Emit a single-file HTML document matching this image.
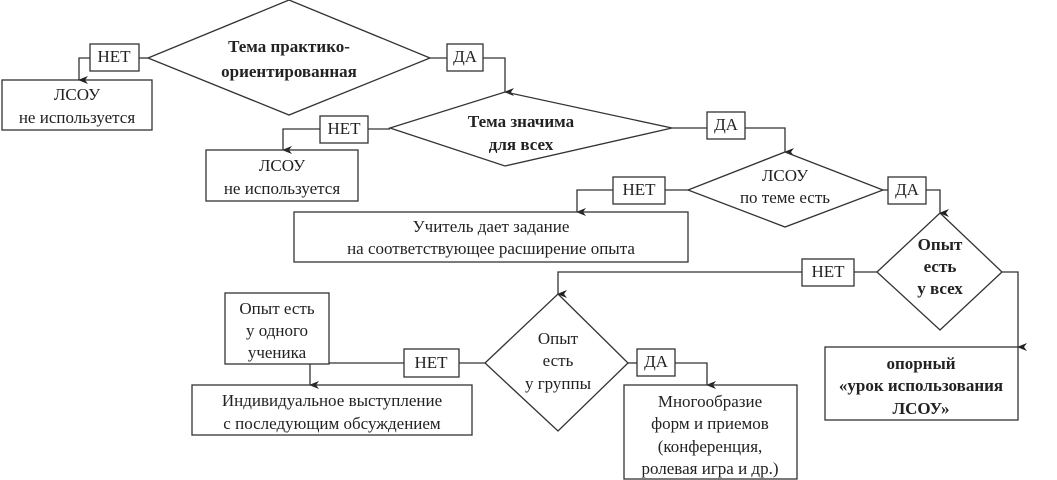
<!DOCTYPE html>
<html><head><meta charset="utf-8"><style>
html,body{margin:0;padding:0;background:#fff}
svg{display:block}
text{font-family:"Liberation Serif",serif;font-size:17px;fill:#222;text-anchor:middle;dominant-baseline:middle}
.b{font-weight:bold}
</style></head><body>
<svg width="1057" height="480" viewBox="0 0 1057 480">
<defs><marker id="a" markerWidth="10" markerHeight="10" refX="5" refY="9" orient="auto" markerUnits="userSpaceOnUse"><path d="M1,0 L5,10 L9,0 L5,3 Z" fill="#222"/></marker></defs>
<g fill="none" stroke="#333" stroke-width="1.3">
<polygon points="289,0 430,58 289,115 148,58" fill="#fff"/>
<rect x="90" y="44" width="49" height="27"/>
<rect x="2" y="80" width="150" height="50"/>
<line x1="139" y1="58" x2="148" y2="58"/>
<polyline points="90,58 79,58 79,80" marker-end="url(#a)"/>
<rect x="447" y="44" width="36" height="27"/>
<line x1="430" y1="58" x2="447" y2="58"/>
<polyline points="483,58 505,58 505,92" marker-end="url(#a)"/>
<polygon points="505,92 672,128 505,166 390,128"/>
<rect x="320" y="116" width="48" height="27"/>
<line x1="368" y1="129" x2="390" y2="129"/>
<polyline points="320,129 283,129 283,150" marker-end="url(#a)"/>
<rect x="206" y="150" width="152" height="51"/>
<rect x="707" y="112" width="38" height="27"/>
<line x1="672" y1="128" x2="707" y2="128"/>
<polyline points="745,128 785,128 785,152" marker-end="url(#a)"/>
<polygon points="785,152 883,190 785,227 688,190"/>
<rect x="613" y="177" width="52" height="27"/>
<line x1="665" y1="190" x2="688" y2="190"/>
<polyline points="613,190 577,190 577,212" marker-end="url(#a)"/>
<rect x="294" y="212" width="394" height="50"/>
<rect x="888" y="177" width="38" height="27"/>
<line x1="883" y1="190" x2="888" y2="190"/>
<polyline points="926,190 940,190 940,213" marker-end="url(#a)"/>
<polygon points="940,213 1002,272 940,330 877,272"/>
<polyline points="1002,272 1018,272 1018,347" marker-end="url(#a)"/>
<rect x="825" y="347" width="193" height="73"/>
<rect x="802" y="259" width="52" height="27"/>
<line x1="854" y1="272" x2="877" y2="272"/>
<polyline points="802,272 558,272 558,294" marker-end="url(#a)"/>
<polygon points="558,294 628,363 558,431 485,363"/>
<rect x="637" y="349" width="38" height="27"/>
<line x1="628" y1="363" x2="637" y2="363"/>
<polyline points="675,363 707,363 707,385" marker-end="url(#a)"/>
<rect x="624" y="385" width="173" height="94"/>
<rect x="404" y="349" width="55" height="28"/>
<line x1="459" y1="363" x2="485" y2="363"/>
<line x1="329" y1="363" x2="404" y2="363"/>
<rect x="225" y="293" width="104" height="71"/>
<line x1="310" y1="364" x2="310" y2="385" marker-end="url(#a)"/>
<rect x="192" y="385" width="280" height="50"/>
</g>
<text class="b" x="289" y="48">Тема практико-</text>
<text class="b" x="289" y="73">ориентированная</text>
<text x="114" y="58">НЕТ</text>
<text x="77" y="96">ЛСОУ</text>
<text x="77" y="119">не используется</text>
<text x="465" y="58">ДА</text>
<text class="b" x="521" y="123">Тема значима</text>
<text class="b" x="521" y="146">для всех</text>
<text x="344" y="130">НЕТ</text>
<text x="282" y="167">ЛСОУ</text>
<text x="282" y="190">не используется</text>
<text x="726" y="126">ДА</text>
<text x="785" y="177">ЛСОУ</text>
<text x="785" y="199">по теме есть</text>
<text x="639" y="191">НЕТ</text>
<text x="491" y="228">Учитель дает задание</text>
<text x="491" y="250">на соответствующее расширение опыта</text>
<text x="907" y="191">ДА</text>
<text class="b" x="940" y="246">Опыт</text>
<text class="b" x="940" y="268">есть</text>
<text class="b" x="940" y="290">у всех</text>
<text x="828" y="273">НЕТ</text>
<text class="b" x="921" y="365">опорный</text>
<text class="b" x="921" y="387">«урок использования</text>
<text class="b" x="921" y="410">ЛСОУ»</text>
<text x="558" y="340">Опыт</text>
<text x="558" y="362">есть</text>
<text x="558" y="385">у группы</text>
<text x="656" y="363">ДА</text>
<text x="710" y="403">Многообразие</text>
<text x="710" y="425">форм и приемов</text>
<text x="710" y="448">(конференция,</text>
<text x="710" y="470">ролевая игра и др.)</text>
<text x="431" y="364">НЕТ</text>
<text x="277" y="310">Опыт есть</text>
<text x="277" y="332">у одного</text>
<text x="277" y="354">ученика</text>
<text x="332" y="402">Индивидуальное выступление</text>
<text x="332" y="425">с последующим обсуждением</text>
</svg>
</body></html>
